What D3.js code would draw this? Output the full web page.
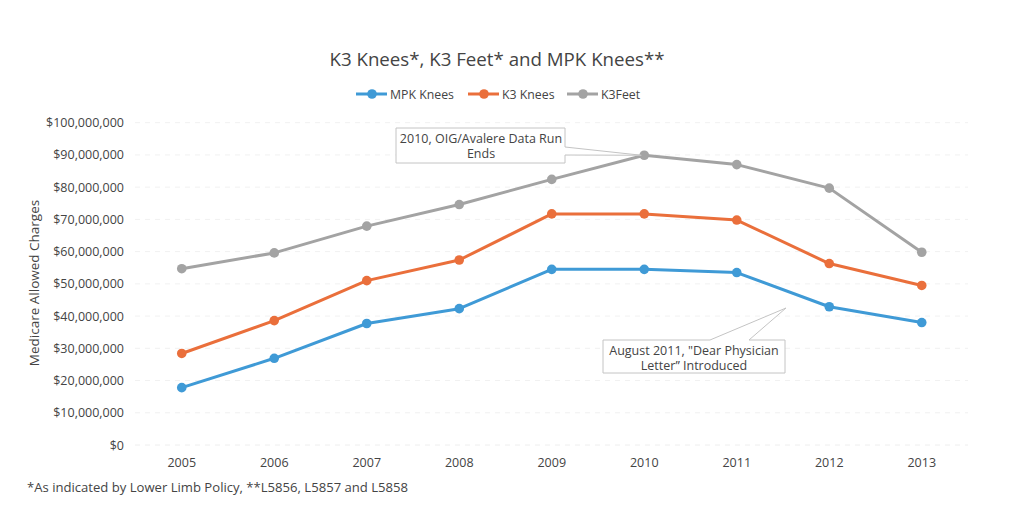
<!DOCTYPE html>
<html><head><meta charset="utf-8">
<script src="https://cdn.jsdelivr.net/npm/d3@7"></script>
<style>body{margin:0;background:#fff}svg{display:block}text{font-family:"Open Sans","Noto Sans",sans-serif;fill:#444}</style>
</head><body><svg id="c" width="1024" height="521"></svg>
<script>
const years = ["2005","2006","2007","2008","2009","2010","2011","2012","2013"];
const mpkKnees = [17.8,26.9,37.7,42.3,54.5,54.5,53.5,42.9,38.0];
const k3Knees  = [28.4,38.6,51.0,57.4,71.7,71.7,69.8,56.3,49.5];
const k3Feet   = [54.7,59.6,67.9,74.6,82.4,89.9,87.0,79.7,59.8];
const seriesNames = ["MPK Knees","K3 Knees","K3Feet"];
const seriesColors = ["#3f9ad6","#ea6f3b","#a3a3a3"];
const yTicks = [0,10,20,30,40,50,60,70,80,90,100];
const title = "K3 Knees*, K3 Feet* and MPK Knees**";
const yTitle = "Medicare Allowed Charges";
const footnote = "*As indicated by Lower Limb Policy, **L5856, L5857 and L5858";
const note1 = ["2010, OIG/Avalere Data Run","Ends"];
const note2 = ["August 2011, \"Dear Physician","Letter\u201d Introduced"];

const svg = d3.select("#c");
const x = d3.scaleBand().domain(years).range([135.5, 968]);
const cx = d => x(d) + x.bandwidth()/2;
const y = d3.scaleLinear().domain([0,100]).range([445, 122.7]);

// gridlines
svg.append("g").selectAll("line").data(yTicks.slice(1)).join("line")
  .attr("x1",135).attr("x2",968).attr("y1",d=>y(d)).attr("y2",d=>y(d))
  .attr("stroke","#f1f1f1").attr("stroke-width",1).attr("stroke-dasharray","5,5");
svg.append("line").attr("x1",135).attr("x2",968).attr("y1",y(0)).attr("y2",y(0))
  .attr("stroke","#eeeeee").attr("stroke-dasharray","5,5");

// y axis labels
const fmt = d => "$" + d3.format(",")(d*1000000);
const yAxis = svg.append("g").attr("transform","translate(124,0)")
  .call(d3.axisLeft(y).tickValues(yTicks).tickFormat(fmt).tickSize(0).tickPadding(0));
yAxis.select(".domain").remove();
yAxis.selectAll("text").attr("font-size","12.5px").attr("fill","#444")
  .style("font-family",'"Open Sans",sans-serif');

// x axis labels
const xAxis = svg.append("g").attr("transform","translate(0,458)")
  .call(d3.axisBottom(x).tickSize(0).tickPadding(0));
xAxis.select(".domain").remove();
xAxis.selectAll("text").attr("font-size","12.5px").attr("fill","#444")
  .style("font-family",'"Open Sans",sans-serif');

// lines
const all = [mpkKnees,k3Knees,k3Feet];
const line = d3.line().x((d,i)=>cx(years[i])).y(d=>y(d));
all.forEach((vals,si)=>{
  svg.append("path").datum(vals).attr("d",line).attr("fill","none")
    .attr("stroke",seriesColors[si]).attr("stroke-width",3).attr("stroke-linejoin","round");
  svg.append("g").selectAll("circle").data(vals).join("circle")
    .attr("cx",(d,i)=>cx(years[i])).attr("cy",d=>y(d)).attr("r",4.8)
    .attr("fill",seriesColors[si]);
});

// title
svg.append("text").attr("x",497).attr("y",66).attr("text-anchor","middle")
  .attr("font-size","18.7px").attr("fill","#444").text(title);

// legend
const legX = [356,468,567];
seriesNames.forEach((n,i)=>{
  const g = svg.append("g");
  g.append("line").attr("x1",legX[i]).attr("x2",legX[i]+31).attr("y1",94).attr("y2",94)
    .attr("stroke",seriesColors[i]).attr("stroke-width",3);
  g.append("circle").attr("cx",legX[i]+16).attr("cy",94).attr("r",4.8).attr("fill",seriesColors[i]);
  g.append("text").attr("x",legX[i]+34).attr("y",98.5).attr("font-size","12.3px").attr("fill","#444").text(n);
});

// y title
svg.append("text").attr("transform","translate(39,283) rotate(-90)").attr("text-anchor","middle")
  .attr("font-size","13.5px").attr("fill","#444").text(yTitle);

// footnote
svg.append("text").attr("x",27).attr("y",492).attr("font-size","13.1px").attr("fill","#333").text(footnote);

// callout 1 (points to 2010 K3Feet)
const p1x = cx("2010"), p1y = y(k3Feet[5]);
svg.append("path").attr("d",`M396,128 H565 V147 L${p1x-3},${p1y} L565,155 V163 H396 Z`)
  .attr("fill","#fff").attr("stroke","#c4c4c4").attr("stroke-width",1);
svg.append("text").attr("x",481).attr("y",143).attr("text-anchor","middle").attr("font-size","12.5px").attr("fill","#333").text(note1[0]);
svg.append("text").attr("x",481).attr("y",158).attr("text-anchor","middle").attr("font-size","12.5px").attr("fill","#333").text(note1[1]);

// callout 2
svg.append("path").attr("d",`M603,340 H710 L786,308 L749,340 H785 V373 H603 Z`)
  .attr("fill","#fff").attr("stroke","#c4c4c4").attr("stroke-width",1);
svg.append("text").attr("x",694).attr("y",355).attr("text-anchor","middle").attr("font-size","12.5px").attr("fill","#333").text(note2[0]);
svg.append("text").attr("x",694).attr("y",370).attr("text-anchor","middle").attr("font-size","12.5px").attr("fill","#333").text(note2[1]);
</script></body></html>
